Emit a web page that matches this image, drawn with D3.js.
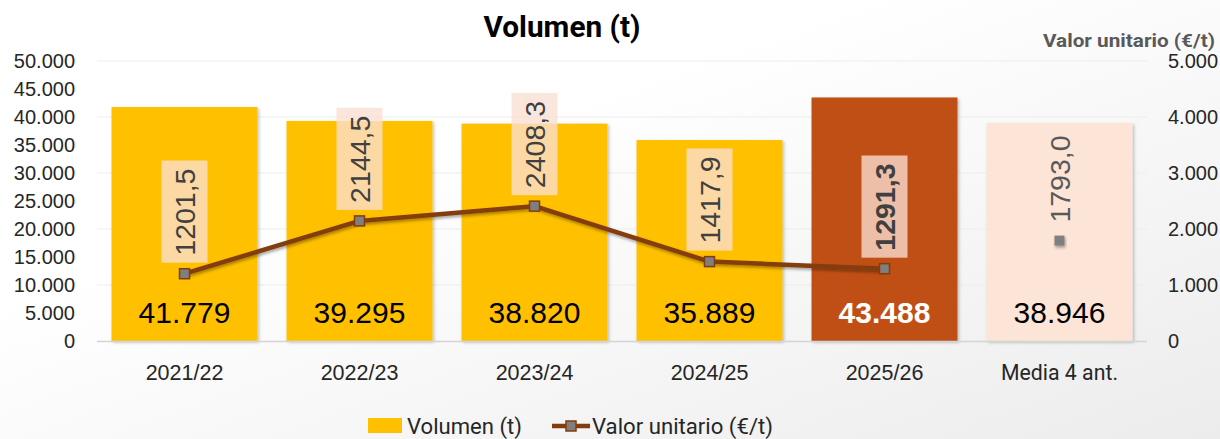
<!DOCTYPE html>
<html><head><meta charset="utf-8">
<script src="https://cdn.jsdelivr.net/npm/d3@7"></script>
<style>html,body{margin:0;padding:0;background:#fff;}svg{display:block;}</style>
</head><body>
<script>
const categories = ["2021/22","2022/23","2023/24","2024/25","2025/26","Media 4 ant."];
const volumen = [41779, 39295, 38820, 35889, 43488, 38946];
const volumenLabels = ["41.779","39.295","38.820","35.889","43.488","38.946"];
const valorUnitario = [1201.5, 2144.5, 2408.3, 1417.9, 1291.3, 1793.0];
const valorLabels = ["1201,5","2144,5","2408,3","1417,9","1291,3","1793,0"];
const leftTicks = [0,5000,10000,15000,20000,25000,30000,35000,40000,45000,50000];
const leftTickLabels = ["0","5.000","10.000","15.000","20.000","25.000","30.000","35.000","40.000","45.000","50.000"];
const rightTicks = [0,1000,2000,3000,4000,5000];
const rightTickLabels = ["0","1.000","2.000","3.000","4.000","5.000"];
const barColors = ["#FFC000","#FFC000","#FFC000","#FFC000","#C05017","#FCE4D6"];

const W = 1220, H = 439;
const svg = d3.select("body").append("svg").attr("width", W).attr("height", H);
const defs = svg.append("defs");
const g1 = defs.append("linearGradient").attr("id","bg").attr("x1","0").attr("y1","0").attr("x2","1").attr("y2","1");
g1.append("stop").attr("offset","0.35").attr("stop-color","#ffffff");
g1.append("stop").attr("offset","1").attr("stop-color","#ececec");
const f = defs.append("filter").attr("id","sh").attr("x","-20%").attr("y","-20%").attr("width","140%").attr("height","140%");
f.append("feDropShadow").attr("dx",1.5).attr("dy",1.5).attr("stdDeviation",1.5).attr("flood-color","#000").attr("flood-opacity",0.25);
const f2 = defs.append("filter").attr("id","shl").attr("x","-20%").attr("y","-50%").attr("width","140%").attr("height","200%");
f2.append("feDropShadow").attr("dx",1).attr("dy",2).attr("stdDeviation",1.8).attr("flood-color","#000").attr("flood-opacity",0.35);

svg.append("rect").attr("width",W).attr("height",H).attr("fill","url(#bg)");

const x = d3.scaleBand().domain(categories).range([97,1147]).paddingInner(0.166).paddingOuter(0.083);
const yL = d3.scaleLinear().domain([0,50000]).range([341,61]);
const yR = d3.scaleLinear().domain([0,5000]).range([341,61]);

// gridlines
svg.append("g").selectAll("line").data(rightTicks.slice(1)).join("line")
  .attr("x1",97).attr("x2",1147).attr("y1",d=>yR(d)).attr("y2",d=>yR(d))
  .attr("stroke","#ededed").attr("stroke-width",1);

// bars
svg.append("g").selectAll("rect").data(volumen).join("rect")
  .attr("x",(d,i)=>x(categories[i])).attr("width",x.bandwidth())
  .attr("y",d=>yL(d)).attr("height",d=>yL(0)-yL(d))
  .attr("fill",(d,i)=>barColors[i]).attr("filter","url(#sh)");

// axis baseline
svg.append("line").attr("x1",97).attr("x2",1147).attr("y1",yL(0)+0.5).attr("y2",yL(0)+0.5).attr("stroke","#d4d4d4").attr("stroke-width",1.5);

// left axis
const leftAxis = d3.axisLeft(yL).tickValues(leftTicks).tickFormat((d,i)=>leftTickLabels[i]).tickSize(0).tickPadding(0);
const la = svg.append("g").attr("transform","translate(75,0)").call(leftAxis);
la.select(".domain").remove();
la.selectAll("text").attr("font-family","Liberation Sans, Arial, sans-serif").attr("font-size",20).attr("fill","#262626");

// right axis
const rightAxis = d3.axisRight(yR).tickValues(rightTicks).tickFormat((d,i)=>rightTickLabels[i]).tickSize(0).tickPadding(0);
const ra = svg.append("g").attr("transform","translate(1168,0)").call(rightAxis);
ra.select(".domain").remove();
ra.selectAll("text").attr("font-family","Liberation Sans, Arial, sans-serif").attr("font-size",20).attr("fill","#262626");

// x axis labels
const cx = i => x(categories[i]) + x.bandwidth()/2;
svg.append("g").selectAll("text").data(categories).join("text")
  .attr("x",(d,i)=>cx(i)).attr("y",380)
  .attr("text-anchor","middle")
  .attr("font-family",(d,i)=> i===5 ? "Roboto, sans-serif" : "Liberation Sans, Arial, sans-serif")
  .attr("font-size",(d,i)=> i===5 ? 22 : 21.5)
  .attr("fill","#262626")
  .each(function(d,i){ if(i===5){ d3.select(this).attr("textLength",117).attr("lengthAdjust","spacingAndGlyphs"); } })
  .text(d=>d);

// line (first 5 points)
const linePts = valorUnitario.slice(0,5).map((v,i)=>[cx(i), yR(v)]);
svg.append("path").attr("d", d3.line()(linePts)).attr("fill","none")
  .attr("stroke","#843C0C").attr("stroke-width",4.5).attr("stroke-linejoin","round").attr("filter","url(#shl)");

// markers
svg.append("g").selectAll("rect").data(valorUnitario).join("rect")
  .attr("x",(d,i)=>cx(i)-5).attr("y",d=>yR(d)-5).attr("width",10).attr("height",10)
  .attr("fill","#7F7F7F")
  .attr("stroke",(d,i)=> i===5 ? "none" : "#843C0C").attr("stroke-width",1.5)
  .attr("filter",(d,i)=> i===5 ? "url(#shl)" : null);

// rotated value labels
valorUnitario.forEach((v,i)=>{
  const g = svg.append("g").attr("transform",`translate(${cx(i)},${yR(v)-18}) rotate(-90)`);
  const t = g.append("text").attr("x",0).attr("y",0).attr("dy","0.36em")
    .attr("font-family","Liberation Sans, Arial, sans-serif").attr("font-size",28.5)
    .attr("font-weight", i===4 ? "bold" : "normal")
    .attr("fill", i===5 ? "#595959" : "#404040").text(valorLabels[i]);
  const len = t.node().getComputedTextLength();
  if (i !== 5) {
    g.insert("rect","text").attr("x",-7).attr("y",-23).attr("width",len+15).attr("height",46)
      .attr("fill","rgb(250,223,210)").attr("fill-opacity",0.78);
  }
});

// bottom volume labels
svg.append("g").selectAll("text").data(volumenLabels).join("text")
  .attr("x",(d,i)=>cx(i)).attr("y",yL(0)-18)
  .attr("text-anchor","middle").attr("font-family","Liberation Sans, Arial, sans-serif").attr("font-size",30)
  .attr("font-weight",(d,i)=> i===4 ? "bold":"normal")
  .attr("fill",(d,i)=> i===4 ? "#ffffff" : "#000000")
  .text(d=>d);

// title
svg.append("text").attr("x",562).attr("y",37).attr("text-anchor","middle")
  .attr("font-family","Roboto, sans-serif").attr("font-weight","bold").attr("font-size",29)
  .attr("textLength",157).attr("lengthAdjust","spacingAndGlyphs").attr("fill","#000").text("Volumen (t)");

// right axis title
svg.append("text").attr("x",1043).attr("y",47)
  .attr("font-family","Roboto, sans-serif").attr("font-weight","bold").attr("font-size",19)
  .attr("textLength",172).attr("lengthAdjust","spacingAndGlyphs").attr("fill","#595959").text("Valor unitario (€/t)");

// legend
svg.append("rect").attr("x",368).attr("y",418).attr("width",34).attr("height",15).attr("fill","#FFC000");
svg.append("text").attr("x",407).attr("y",434).attr("font-family","Roboto, sans-serif").attr("font-size",22)
  .attr("textLength",115).attr("lengthAdjust","spacingAndGlyphs").attr("fill","#262626").text("Volumen (t)");
svg.append("line").attr("x1",552).attr("x2",590).attr("y1",426).attr("y2",426).attr("stroke","#843C0C").attr("stroke-width",4.5);
svg.append("rect").attr("x",566).attr("y",421).attr("width",10).attr("height",10).attr("fill","#7F7F7F").attr("stroke","#843C0C").attr("stroke-width",1.5);
svg.append("text").attr("x",592).attr("y",434).attr("font-family","Roboto, sans-serif").attr("font-size",22)
  .attr("textLength",181).attr("lengthAdjust","spacingAndGlyphs").attr("fill","#262626").text("Valor unitario (€/t)");
</script>
</body></html>
